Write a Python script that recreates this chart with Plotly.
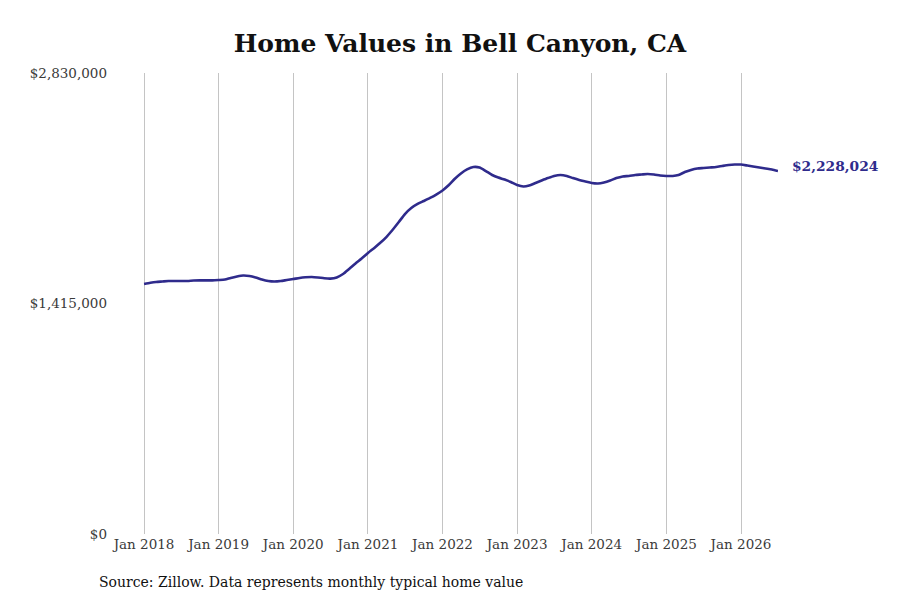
import plotly.graph_objects as go
import pandas as pd

# monthly typical home value, Jan 2018 - Jul 2026
months = pd.date_range("2018-01-01", "2026-07-01", freq="MS")
home_values = [
    1535000, 1542000, 1547000, 1550000, 1553000, 1553000, 1553000, 1553000, 1556000, 1557000, 1557000, 1557000,
    1559000, 1562000, 1572000, 1581000, 1587000, 1584000, 1575000, 1562000, 1553000, 1550000, 1553000, 1559000,
    1565000, 1572000, 1576000, 1578000, 1575000, 1570000, 1568000, 1575000, 1596000, 1627000, 1661000, 1691000,
    1725000, 1756000, 1786000, 1823000, 1866000, 1915000, 1964000, 2001000, 2026000, 2044000, 2063000, 2084000,
    2109000, 2142000, 2179000, 2213000, 2238000, 2253000, 2250000, 2228000, 2204000, 2188000, 2176000, 2161000,
    2142000, 2133000, 2139000, 2155000, 2170000, 2185000, 2198000, 2204000, 2198000, 2185000, 2173000, 2164000,
    2155000, 2152000, 2158000, 2170000, 2185000, 2195000, 2198000, 2204000, 2207000, 2210000, 2207000, 2201000,
    2198000, 2198000, 2204000, 2222000, 2235000, 2244000, 2247000, 2250000, 2253000, 2259000, 2265000, 2268000,
    2268000, 2262000, 2256000, 2250000, 2244000, 2238000, 2228024,
]
y_ticks = [0, 1415000, 2830000]
y_tick_labels = ["$0", "$1,415,000", "$2,830,000"]

line_color = "#2f2b8c"
font = "DejaVu Serif"

fig = go.Figure()
fig.add_trace(go.Scatter(
    x=months, y=home_values, mode="lines",
    line=dict(color=line_color, width=2.6, shape="spline", smoothing=0.6),
    hoverinfo="skip",
))

# last value label
fig.add_annotation(
    x=months[-1], y=home_values[-1], text="<b>$" + f"{home_values[-1]:,}" + "</b>",
    showarrow=False, xanchor="left", xshift=12, yshift=5,
    font=dict(family=font, size=13.8, color=line_color),
)
fig.add_annotation(
    x=-0.071, y=-0.104, xref="paper", yref="paper",
    text="Source: Zillow. Data represents monthly typical home value",
    showarrow=False, xanchor="left", yanchor="middle",
    font=dict(family=font, size=14, color="#111"),
)

# page body adds an 8px offset, so margins are trimmed by that much
fig.update_layout(
    width=900, height=600,
    margin=dict(l=134, r=130, t=65, b=74, autoexpand=False),
    plot_bgcolor="white", paper_bgcolor="white",
    showlegend=False,
    title=dict(text="<b>Home Values in Bell Canyon, CA</b>", x=0.5, xref="paper",
               y=0.942, yanchor="middle",
               font=dict(family=font, size=25, color="#111")),
    font=dict(family=font, size=13.5, color="#3a3a3a"),
)
fig.update_xaxes(
    range=["2017-12-22", "2026-07-01"], tick0="2018-01-01", dtick="M12", tickformat="%b %Y",
    showgrid=True, gridcolor="#c4c4c4", gridwidth=1, zeroline=False, showline=False,
    automargin=False,
)
fig.update_yaxes(
    range=[0, 2830000], tickvals=y_ticks, ticktext=y_tick_labels,
    showgrid=False, zeroline=False, showline=False, ticklabelstandoff=34,
    automargin=False,
)

fig.write_html("out.html")
